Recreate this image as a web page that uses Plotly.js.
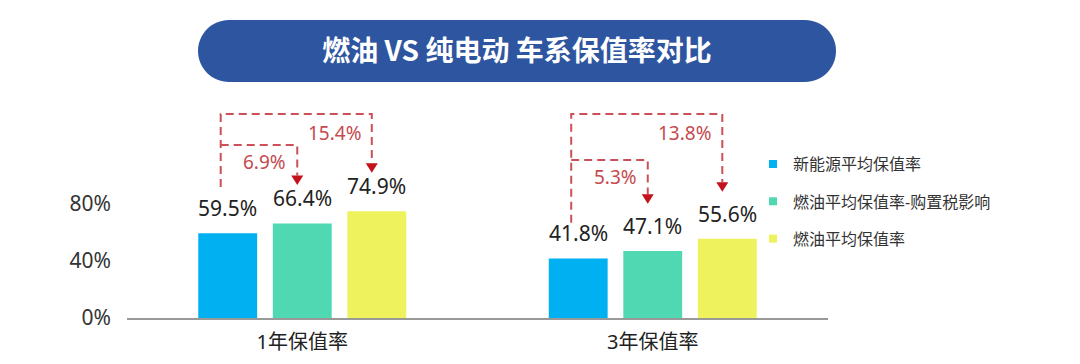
<!DOCTYPE html>
<html><head><meta charset="utf-8">
<script src="https://cdn.plot.ly/plotly-3.0.1.min.js"></script>
<style>html,body{margin:0;padding:0;background:#fff}</style>
</head><body><div id="chart" style="width:1080px;height:364px"></div>
<script>
// ---- data ----
const categories = ['1年保值率', '3年保值率'];
const seriesNames = ['新能源平均保值率', '燃油平均保值率-购置税影响', '燃油平均保值率'];
const evRate = [59.5, 41.8];
const fuelAfterTax = [66.4, 47.1];
const fuelRate = [74.9, 55.6];
const yTickVals = [0, 40, 80];
const yTickText = ['0%', '40%', '80%'];
const chartTitle = '燃油 VS 纯电动 车系保值率对比';

// ---- style / layout constants ----
const colors = ['#00b0f0', '#4fd8b2', '#eef25c'];
const FONT = '"Noto Sans", "Noto Sans CJK SC", sans-serif';
const BARGAP = 0.362, BARGROUPGAP = 0.21;
const Y_MAX = 153;
const PX_X = 350.5;           // px per category unit
const PX_Y = 218 / Y_MAX;     // px per percent
const deco = {
  startOffset: [32.5, 25],    // bracket start above blue bar value
  tipOffset: [27, 33],        // arrow tip above target bar value
  outer: 143.2,
  inner: [121.4, 110.9]
};
const RED_LINE = '#cc5058', RED_ARROW = '#c4121c', RED_TEXT = '#c44a4f';

const series = [evRate, fuelAfterTax, fuelRate];
const xIdx = categories.map((c, i) => i);
const bw = (1 - BARGAP) / 3;
const dx = px => px / PX_X;
const dy = px => px / PX_Y;

const traces = series.map((vals, k) => ({
  type: 'bar', x: xIdx, y: vals, name: seriesNames[k],
  marker: {color: colors[k]}, showlegend: false, hoverinfo: 'skip'
}));
series.forEach((vals, k) => traces.push({
  type: 'scatter', mode: 'markers', x: [null], y: [null], name: seriesNames[k],
  legendgroup: 'g' + k, marker: {symbol: 'square', size: 8, color: colors[k]},
  showlegend: true, hoverinfo: 'skip'
}));

const shapes = [];
const annotations = [];

// value labels above bars
series.forEach((vals, k) => vals.forEach((v, i) => annotations.push({
  x: i + (k - 1) * bw, y: v, xref: 'x', yref: 'y', xanchor: 'center', yanchor: 'bottom',
  yshift: 9, showarrow: false, text: v.toFixed(1) + '%',
  font: {family: FONT, size: 21, color: '#222'}
})));

// title pill
shapes.push({
  type: 'path', xref: 'paper', yref: 'paper', xsizemode: 'pixel', ysizemode: 'pixel',
  xanchor: (517 - 127) / 701, yanchor: (318 - 51) / 218,
  path: 'M -288,31 L 288,31 C 305.12,31 319,17.12 319,0 C 319,-17.12 305.12,-31 288,-31 L -288,-31 C -305.12,-31 -319,-17.12 -319,0 C -319,17.12 -305.12,31 -288,31 Z',
  fillcolor: '#2e55a0', line: {width: 0}, layer: 'below'
});

const triH = dy(9.5), triW = dx(6);
categories.forEach((c, i) => {
  const sx = i - bw + dx(-7);
  const gx = i + dx(-5);
  const yx = i + bw + dx(-5);
  const sy = evRate[i] + deco.startOffset[i];
  const gTip = fuelAfterTax[i] + deco.tipOffset[i];
  const yTip = fuelRate[i] + deco.tipOffset[i];
  const oy = deco.outer, iy = deco.inner[i];
  const lineStyle = {color: RED_LINE, width: 2, dash: '8px,5px'};
  shapes.push({type: 'path', xref: 'x', yref: 'y', line: lineStyle,
    path: `M ${sx},${sy} L ${sx},${oy} L ${yx},${oy} L ${yx},${yTip + triH}`});
  shapes.push({type: 'path', xref: 'x', yref: 'y', line: lineStyle,
    path: `M ${sx},${iy} L ${gx},${iy} L ${gx},${gTip + triH}`});
  [[gx, gTip], [yx, yTip]].forEach(([x, t]) => shapes.push({
    type: 'path', xref: 'x', yref: 'y', fillcolor: RED_ARROW, line: {width: 0},
    path: `M ${x - triW},${t + triH} L ${x + triW},${t + triH} L ${x},${t} Z`
  }));
  annotations.push({x: yx, y: oy, xref: 'x', yref: 'y', xanchor: 'right', yanchor: 'middle',
    xshift: -8, yshift: -19, showarrow: false,
    text: (fuelRate[i] - evRate[i]).toFixed(1) + '%',
    font: {family: FONT, size: 19, color: RED_TEXT}});
  annotations.push({x: gx, y: iy, xref: 'x', yref: 'y', xanchor: 'right', yanchor: 'middle',
    xshift: -9, yshift: -17, showarrow: false,
    text: (fuelAfterTax[i] - evRate[i]).toFixed(1) + '%',
    font: {family: FONT, size: 19, color: RED_TEXT}});
});

const layout = {
  width: 1080, height: 364, autosize: false,
  margin: {l: 127, r: 252, t: 100, b: 46, pad: 0},
  paper_bgcolor: '#fff', plot_bgcolor: '#fff',
  font: {family: FONT, color: '#333'},
  title: {text: chartTitle, xref: 'container', yref: 'container',
    x: 517 / 1080, xanchor: 'center', y: 1 - 51 / 364, yanchor: 'middle',
    font: {family: '"Noto Sans CJK SC", sans-serif', size: 28, color: '#fff', weight: 'bold'}},
  barmode: 'group', bargap: BARGAP, bargroupgap: BARGROUPGAP,
  xaxis: {range: [-0.5, 1.5], tickvals: xIdx, ticktext: categories,
    showline: true, linecolor: '#999', linewidth: 2, showgrid: false, zeroline: false,
    ticks: '', tickfont: {family: FONT, size: 20, color: '#222'}, ticklabelstandoff: 5},
  yaxis: {range: [0, Y_MAX], tickvals: yTickVals, ticktext: yTickText,
    showline: false, showgrid: false, zeroline: false, ticks: '',
    tickfont: {family: FONT, size: 21, color: '#333'}, ticklabelstandoff: 15},
  legend: {x: (753 - 127) / 701, xanchor: 'left', y: 0.784, yanchor: 'top',
    font: {family: FONT, size: 16, color: '#333'}, traceorder: 'grouped',
    tracegroupgap: 13.5, bgcolor: 'rgba(0,0,0,0)'},
  shapes: shapes, annotations: annotations, showlegend: true
};
Plotly.newPlot('chart', traces, layout, {displayModeBar: false, staticPlot: true});
</script>
</body></html>
